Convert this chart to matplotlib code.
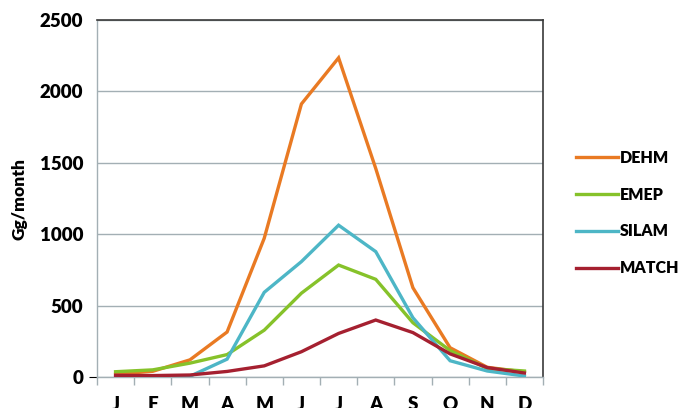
import matplotlib
matplotlib.use("Agg")
import matplotlib.pyplot as plt
from matplotlib.ticker import FixedLocator, MultipleLocator

months = ["J", "F", "M", "A", "M", "J", "J", "A", "S", "O", "N", "D"]

dehm = [20, 40, 120, 315, 972, 1912, 2235, 1460, 625, 205, 68, 35]
emep = [37, 50, 97, 157, 328, 587, 784, 684, 380, 185, 60, 42]
silam = [2, 2, 5, 125, 593, 808, 1063, 878, 415, 114, 42, 7]
match = [12, 10, 14, 39, 78, 177, 305, 399, 311, 162, 66, 28]

series = [
    ("DEHM", dehm, "#E97A23"),
    ("EMEP", emep, "#86C22A"),
    ("SILAM", silam, "#4DB6C6"),
    ("MATCH", match, "#A52030"),
]

yticks = [0, 500, 1000, 1500, 2000, 2500]

plt.rcParams["font.family"] = ["Lato", "DejaVu Sans"]
plt.rcParams["font.weight"] = "heavy"

fig = plt.figure(figsize=(6.82, 4.08), dpi=100)
ax = fig.add_axes([97 / 682, 31 / 408, 446 / 682, 357 / 408])

x = list(range(len(months)))
for name, vals, col in series:
    ax.plot(x, vals, color=col, lw=2.4, label=name, solid_joinstyle="miter",
            zorder=3)

ax.set_xlim(-0.5, len(months) - 0.5)
ax.set_ylim(0, 2500)

ax.yaxis.set_major_locator(FixedLocator(yticks))
ax.set_yticklabels([str(v) for v in yticks], fontsize=13.5, fontweight="heavy")
ax.tick_params(axis="y", length=0, pad=10)
ax.grid(axis="y", color="#A3AFB4", lw=1.0, zorder=1)

ax.set_xticks(x)
ax.set_xticklabels(months, fontsize=13.5, fontweight="heavy")
ax.xaxis.set_minor_locator(MultipleLocator(1, offset=0.5))
ax.tick_params(axis="x", which="major", length=0, pad=14)
ax.tick_params(axis="x", which="minor", length=6, color="#A3AFB4", width=1.0)

zero_tick = ax.yaxis.get_major_ticks()[0]
zero_tick.tick1line.set_markersize(6)
zero_tick.tick1line.set_color("#A3AFB4")

for side in ("left", "bottom"):
    ax.spines[side].set_color("#A3AFB4")
    ax.spines[side].set_linewidth(1.0)
for side in ("top", "right"):
    ax.spines[side].set_color("#3A3A3A")
    ax.spines[side].set_linewidth(1.2)

ax.set_ylabel("Gg/month", fontsize=12.5, fontweight="heavy", labelpad=9)

fig.legend(loc="center left", bbox_to_anchor=(562 / 682, 1 - 213 / 408),
           frameon=False, handlelength=2.6, handletextpad=0.15,
           labelspacing=1.3, prop={"weight": "heavy", "size": 11.5})

fig.savefig("out.png", dpi=100)
